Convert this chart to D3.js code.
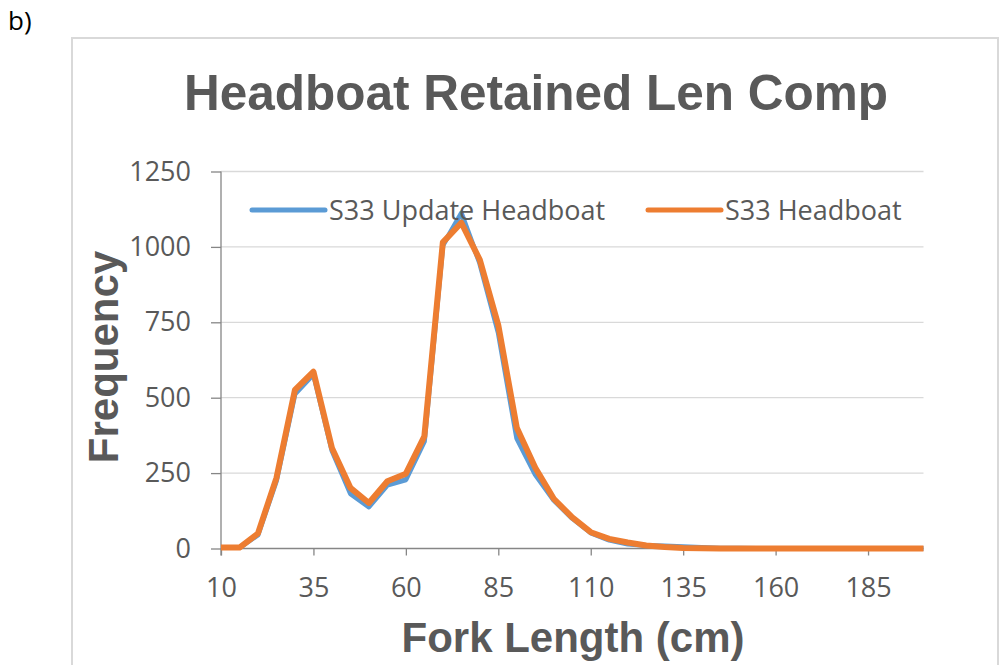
<!DOCTYPE html>
<html>
<head>
<meta charset="utf-8">
<script src="https://cdn.jsdelivr.net/npm/d3@7"></script>
<style>
  html, body { margin: 0; padding: 0; background: #fff; }
  svg { display: block; }
</style>
</head>
<body>
<svg id="chart" width="1000" height="665"></svg>
<script>
// ---- data ----
const forkLengths = [10,15,20,25,30,35,40,45,50,55,60,65,70,75,80,85,90,95,100,105,110,115,120,125,130,135,140,145,150,155,160,165,170,175,180,185,190,195,200];
const s33Update = [3,3,45,225,512,578,325,182,138,210,228,355,1005,1112,945,715,365,245,160,100,52,28,15,10,8,6,3,1,1,0,0,0,0,0,0,0,0,0,0];
const s33Headboat = [3,3,50,234,526,586,333,201,151,223,248,372,1015,1080,957,740,400,268,165,103,54,32,20,10,5,2,1,0,0,0,0,0,0,0,0,0,0,0,0];
const xTicks = [10,35,60,85,110,135,160,185];
const yTicks = [0,250,500,750,1000,1250];
const seriesNames = ["S33 Update Headboat", "S33 Headboat"];
const seriesColors = ["#5B9BD5", "#ED7D31"];
const chartTitle = "Headboat Retained Len Comp";
const xTitle = "Fork Length (cm)";
const yTitle = "Frequency";

const svg = d3.select("#chart");
const txt = "#595959";
const tickFont = "'Open Sans', sans-serif";
const boldFont = "'Liberation Sans', Arial, sans-serif";

// panel label
svg.append("text").attr("x", 8).attr("y", 30)
  .attr("font-family", "'Open Sans', sans-serif").attr("font-size", 26)
  .attr("fill", "#000").text("b)");

// chart border
svg.append("rect").attr("x", 72).attr("y", 38).attr("width", 926).attr("height", 640)
  .attr("fill", "#fff").attr("stroke", "#d9d9d9").attr("stroke-width", 2);

const x = d3.scaleLinear().domain([10, 200]).range([221, 923.5]);
const y = d3.scaleLinear().domain([0, 1250]).range([548.5, 171.5]);

// gridlines
svg.append("g").selectAll("line").data(yTicks.filter(d => d > 0)).join("line")
  .attr("x1", x(10)).attr("x2", x(200))
  .attr("y1", d => y(d)).attr("y2", d => y(d))
  .attr("stroke", "#d9d9d9").attr("stroke-width", 1.3);

// y axis
const yAxis = svg.append("g").attr("transform", `translate(${x(10)},0)`)
  .call(d3.axisLeft(y).tickValues(yTicks).tickSize(10).tickPadding(20).tickFormat(d3.format("d")));
yAxis.select(".domain").attr("stroke", "#868686").attr("stroke-width", 1.3)
  .attr("d", `M0,${y(1250)}V${y(0) + 7}`);
yAxis.selectAll(".tick line").attr("stroke", "#868686").attr("stroke-width", 1.3);
yAxis.selectAll(".tick text").attr("font-family", tickFont).attr("font-size", 27)
  .attr("fill", txt);

// x axis
const xAxis = svg.append("g").attr("transform", `translate(0,${y(0)})`)
  .call(d3.axisBottom(x).tickValues(xTicks).tickSize(7).tickPadding(22).tickFormat(d3.format("d")));
xAxis.select(".domain").attr("stroke", "#868686").attr("stroke-width", 1.3)
  .attr("d", `M${x(10)},0H${x(200)}`);
xAxis.selectAll(".tick line").attr("stroke", "#868686").attr("stroke-width", 1.3);
xAxis.selectAll(".tick text").attr("font-family", tickFont).attr("font-size", 27)
  .attr("fill", txt);

// lines
const line = d3.line().x((d, i) => x(forkLengths[i])).y(d => y(d));
[s33Update, s33Headboat].forEach((vals, k) => {
  svg.append("path").datum(vals).attr("d", line)
    .attr("fill", "none").attr("stroke", seriesColors[k])
    .attr("stroke-width", k === 0 ? 5 : 6)
    .attr("stroke-linejoin", "round").attr("stroke-linecap", "butt");
});

// title
svg.append("text").attr("x", 536).attr("y", 110).attr("text-anchor", "middle")
  .attr("font-family", boldFont).attr("font-weight", "bold").attr("font-size", 49.5)
  .attr("fill", txt).text(chartTitle);

// axis titles
svg.append("text").attr("x", 573).attr("y", 652).attr("text-anchor", "middle")
  .attr("font-family", boldFont).attr("font-weight", "bold").attr("font-size", 42)
  .attr("fill", txt).text(xTitle);
svg.append("text").attr("transform", "translate(118,357) rotate(-90)")
  .attr("text-anchor", "middle")
  .attr("font-family", boldFont).attr("font-weight", "bold").attr("font-size", 42)
  .attr("fill", txt).text(yTitle);

// legend
const legendX = [252, 648];
seriesNames.forEach((name, k) => {
  const g = svg.append("g").attr("transform", `translate(${legendX[k]},210)`);
  g.append("line").attr("x1", 0).attr("x2", 73).attr("y1", 0).attr("y2", 0)
    .attr("stroke", seriesColors[k]).attr("stroke-width", 5).attr("stroke-linecap", "round");
  g.append("text").attr("x", 77).attr("y", 10)
    .attr("font-family", tickFont).attr("font-size", 27).attr("fill", txt).text(name);
});
</script>
</body>
</html>
